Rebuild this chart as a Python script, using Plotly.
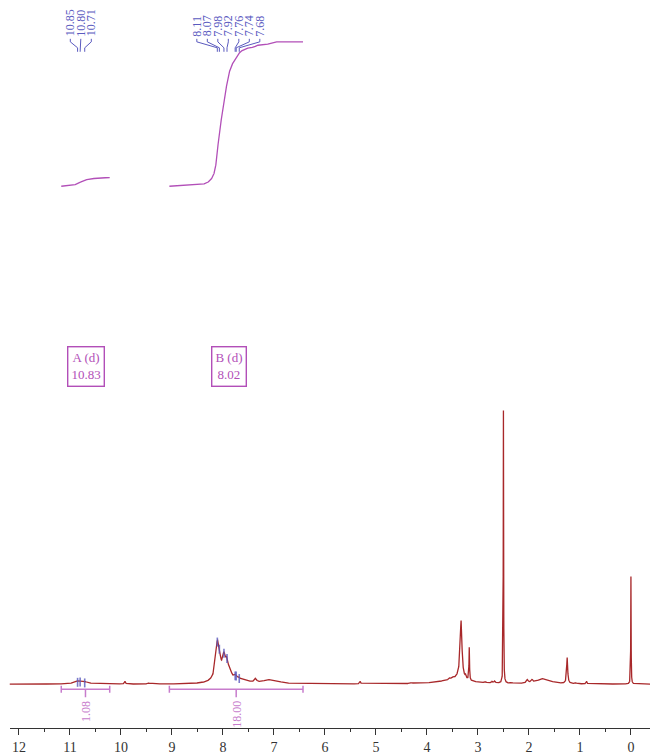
import numpy as np
import plotly.graph_objects as go

# ---------------- data ----------------
# 1H peaks of the spectrum: shift (ppm), height (DMSO line = 100), half width (ppm)
peak_ppm = [10.85, 10.80, 10.71, 10.78, 9.92, 9.46,
            8.11, 8.07, 8.05, 7.98, 7.92, 7.85, 7.76, 7.74, 7.68, 7.55, 7.36, 7.10, 6.95,
            5.31, 4.30, 3.45, 3.55, 3.49, 3.35, 3.33, 3.24, 3.17,
            2.85, 2.72, 2.67, 2.50, 2.34, 2.03, 1.94, 1.71, 1.25, 1.08, 0.87, 0.00]
peak_height = [0.5, 0.6, 0.4, 0.5, 1.0, 0.4,
               12.0, 4.0, 2.0, 7.0, 5.5, 2.0, 1.2, 0.8, 1.2, 0.8, 1.4, 1.3, 0.5,
               1.0, 0.3, 1.6, 0.6, 0.5, 2.0, 20.0, 1.0, 12.0,
               0.5, 0.6, 0.7, 100.0, 0.3, 1.2, 1.0, 2.0, 9.5, 0.4, 1.0, 39.4]
peak_width = [0.04, 0.04, 0.04, 0.20, 0.012, 0.015,
              0.04, 0.03, 0.15, 0.035, 0.035, 0.05, 0.03, 0.02, 0.04, 0.10, 0.025, 0.15, 0.12,
              0.012, 0.02, 0.35, 0.015, 0.015, 0.06, 0.02, 0.01, 0.006,
              0.015, 0.015, 0.015, 0.004, 0.02, 0.02, 0.02, 0.15, 0.012, 0.015, 0.01, 0.004]

# peak picking
pick_groups = [[10.85, 10.80, 10.71],
               [8.11, 8.07, 7.98, 7.92, 7.76, 7.74, 7.68]]

# multiplet reports
mult_names = ["A (d)", "B (d)"]
mult_shift = [10.83, 8.02]

# integration ranges (ppm), sloped baseline level at the low-ppm end, integral values
integ_from = [11.17, 9.05]
integ_to = [10.22, 6.43]
integ_slope_end = [0.0, 1.5]
integ_value = [1.08, 18.00]

tick_vals = list(range(0, 13))

# ---------------- geometry helpers ----------------
W, H = 650, 755
PLOT_H = 731                    # plot area height in px (axis line at the bottom)
AX_L = 9.75                     # left end of the axis line in px
PX_PER_PPM = 51.0
X_LEFT = 12.18
X_RIGHT = X_LEFT - (W - AX_L) / PX_PER_PPM

BASE_PX = 687                   # spectrum baseline
PX_PER_UNIT = 2.74              # spectrum intensity scale
INT_BASE_PX = 187               # integral curves baseline
INT_PX_PER_UNIT = 145 / 18.0


def ppm_to_px(v):
    return AX_L + (X_LEFT - v) * PX_PER_PPM


def px_to_ppm(px):
    return X_LEFT - (px - AX_L) / PX_PER_PPM


def spec_px(v):
    return BASE_PX - v * PX_PER_UNIT


# ---------------- spectrum ----------------
ppm = np.round(np.arange(-0.40, 12.40, 0.001), 3)


def lorentz_sum(x):
    x = np.atleast_1d(np.asarray(x, dtype=float))
    y = np.zeros_like(x)
    for p, h, w in zip(peak_ppm, peak_height, peak_width):
        y += h * w * w / ((x - p) ** 2 + w * w)
    return y


intensity = lorentz_sum(ppm)

SPEC_COLOR = "#a8282a"
PICK_COLOR = "#5a5abf"
INT_COLOR = "#b24fb8"
BAR_COLOR = "#c77ccc"
SERIF = "Liberation Serif"

fig = go.Figure()

fig.add_trace(go.Scatter(x=ppm, y=intensity, mode="lines",
                         line=dict(color=SPEC_COLOR, width=1.3),
                         hoverinfo="skip", yaxis="y"))

# integral curves: cumulative area from high to low ppm above a sloped baseline
for a, b, slope_end, val in zip(integ_from, integ_to, integ_slope_end, integ_value):
    m = (ppm <= a) & (ppm >= b)
    xs = ppm[m][::-1]
    base = slope_end * (a - xs) / (a - b)
    ys = np.clip(intensity[m][::-1] - base, 0, None)
    cum = np.cumsum(ys)
    cum = (cum - cum[0]) / (cum[-1] - cum[0]) * val
    fig.add_trace(go.Scatter(x=xs, y=cum, mode="lines",
                             line=dict(color=INT_COLOR, width=1.3),
                             hoverinfo="skip", yaxis="y2"))

# integration bars below the baseline with their values
annotations = []
for a, b, val in zip(integ_from, integ_to, integ_value):
    mid = (a + b) / 2
    bar_y = 692
    fig.add_trace(go.Scatter(
        x=[a, a, None, a, b, None, b, b, None, mid, mid],
        y=[bar_y - 3.5, bar_y + 3.5, None, bar_y, bar_y, None, bar_y - 3.5, bar_y + 3.5,
           None, bar_y, bar_y + 8],
        mode="lines", line=dict(color=BAR_COLOR, width=1.5),
        hoverinfo="skip", yaxis="y3"))
    annotations.append(dict(x=mid, y=702, xref="x", yref="y3", text=f"{val:.2f}",
                            textangle=-90, showarrow=False, xanchor="center",
                            yanchor="top", font=dict(family=SERIF, size=12, color=BAR_COLOR)))

# peak picking: marks on peaks, labels on top and connectors
LABEL_SPACING = 10.5
for group in pick_groups:
    pxs = [ppm_to_px(p) for p in group]
    centre = float(np.mean(pxs))
    n = len(group)
    label_px = [centre + (i - (n - 1) / 2) * LABEL_SPACING for i in range(n)]
    cx, cy = [], []
    for p, lp in zip(group, label_px):
        pk = spec_px(lorentz_sum(p)[0])
        fig.add_trace(go.Scatter(x=[p, p], y=[pk - 3, pk + 6], mode="lines",
                                 line=dict(color=PICK_COLOR, width=1.6),
                                 opacity=0.8, hoverinfo="skip", yaxis="y3"))
        lx = px_to_ppm(lp)
        cx += [lx, lx, p, p, None]
        cy += [39, 42, 48, 52, None]
        annotations.append(dict(x=lx, y=38.5, xref="x", yref="y3", text=f"{p:.2f}",
                                textangle=-90, showarrow=False, xanchor="center",
                                yanchor="bottom",
                                font=dict(family=SERIF, size=12, color=PICK_COLOR)))
    fig.add_trace(go.Scatter(x=cx, y=cy, mode="lines",
                             line=dict(color=PICK_COLOR, width=1),
                             hoverinfo="skip", yaxis="y3"))

# multiplet boxes
box_px = [85.5, 228.5]
for name, shift, bx in zip(mult_names, mult_shift, box_px):
    annotations.append(dict(x=px_to_ppm(bx), y=368, xref="x", yref="y3",
                            text=f"{name}<br>{shift:.2f}", showarrow=False,
                            xanchor="center", yanchor="middle", align="center",
                            bordercolor=INT_COLOR, borderwidth=1.4, borderpad=3,
                            font=dict(family=SERIF, size=13, color=INT_COLOR)))

# axis title, mostly below the visible page
annotations.append(dict(x=px_to_ppm(327), y=751, xref="x", yref="y3", text="f1 (ppm)",
                        showarrow=False, xanchor="center", yanchor="top",
                        font=dict(family=SERIF, size=13, color="#444")))

fig.update_layout(
    width=W, height=H,
    margin=dict(l=0, r=0, t=0, b=H - PLOT_H, pad=0),
    paper_bgcolor="white", plot_bgcolor="white",
    showlegend=False,
    xaxis=dict(range=[X_LEFT, X_RIGHT], domain=[AX_L / W, 1],
               tickmode="array", tickvals=tick_vals, ticktext=[str(t) for t in tick_vals],
               ticks="outside", ticklen=6, tickwidth=1, tickcolor="#333",
               minor=dict(dtick=0.5, tick0=0, ticks="outside", ticklen=3, tickcolor="#333"),
               showline=True, linecolor="#333", linewidth=1,
               showgrid=False, zeroline=False,
               tickfont=dict(family=SERIF, size=14, color="#333")),
    yaxis=dict(range=[-(PLOT_H - BASE_PX) / PX_PER_UNIT, BASE_PX / PX_PER_UNIT],
               visible=False, showgrid=False, zeroline=False),
    yaxis2=dict(range=[-(PLOT_H - INT_BASE_PX) / INT_PX_PER_UNIT, INT_BASE_PX / INT_PX_PER_UNIT],
                overlaying="y", visible=False, showgrid=False, zeroline=False),
    yaxis3=dict(range=[PLOT_H, 0], overlaying="y", visible=False,
                showgrid=False, zeroline=False),
    annotations=annotations,
)

fig.write_html("out.html")
